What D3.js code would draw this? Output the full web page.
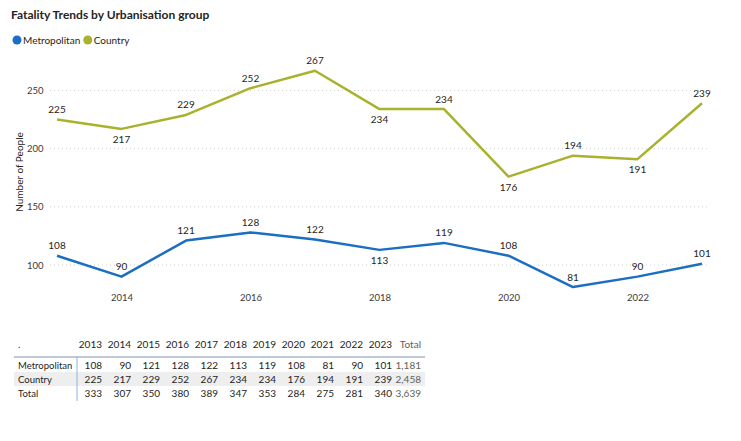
<!DOCTYPE html>
<html>
<head>
<meta charset="utf-8">
<script src="https://cdn.jsdelivr.net/npm/d3@7"></script>
<style>
  body { margin: 0; background: #fff; }
  svg text { font-family: "Segoe UI", Lato, "Noto Sans", sans-serif; }
</style>
</head>
<body>
<script>
// data
var years = [2013, 2014, 2015, 2016, 2017, 2018, 2019, 2020, 2021, 2022, 2023];
var metropolitan = [108, 90, 121, 128, 122, 113, 119, 108, 81, 90, 101];
var country = [225, 217, 229, 252, 267, 234, 234, 176, 194, 191, 239];
var xTickYears = [2014, 2016, 2018, 2020, 2022];
var yTicks = [100, 150, 200, 250];
// which labels sit under the point
var metroBelow = [2018];
var countryBelow = [2014, 2018, 2020, 2022];

var colors = { Metropolitan: "#1b6ec2", Country: "#a9b22c" };

var W = 741, H = 441;
var svg = d3.select("body").append("svg")
  .attr("width", W)
  .attr("height", H);

// title + legend
svg.append("text")
  .attr("x", 11).attr("y", 19)
  .attr("font-size", "12px")
  .attr("font-weight", 700)
  .attr("fill", "#252423")
  .text("Fatality Trends by Urbanisation group");

var lx = 17;
["Metropolitan", "Country"].forEach(function(name) {
  svg.append("circle").attr("cx", lx).attr("cy", 40).attr("r", 4.5).attr("fill", colors[name]);
  var t = svg.append("text").attr("x", lx + 6).attr("y", 43.5)
    .attr("font-size", "10px").attr("fill", "#252423").text(name);
  lx += 6 + t.node().getComputedTextLength() + 7.5;
});

// scales
var x = d3.scaleLinear().domain([2013, 2023]).range([57, 702]);
var y = d3.scaleLinear().domain([100, 250]).range([265, 90.5]);

// gridlines
svg.append("g").selectAll("line")
  .data(yTicks).join("line")
  .attr("x1", 50).attr("x2", 710)
  .attr("y1", function(d) { return y(d); })
  .attr("y2", function(d) { return y(d); })
  .attr("stroke", "#d0d0d0")
  .attr("stroke-dasharray", "1,3");

// y axis
var yAxis = svg.append("g")
  .attr("transform", "translate(43.5,0)")
  .call(d3.axisLeft(y).tickValues(yTicks).tickSize(0).tickPadding(0));
yAxis.select(".domain").remove();
yAxis.selectAll("text").attr("font-size", "9.5px").attr("fill", "#3b3a39");

svg.append("text")
  .attr("transform", "translate(23,172) rotate(-90)")
  .attr("text-anchor", "middle")
  .attr("font-size", "10px")
  .attr("fill", "#252423")
  .text("Number of People");

// x axis
var xAxis = svg.append("g")
  .attr("transform", "translate(0,294)")
  .call(d3.axisBottom(x).tickValues(xTickYears).tickFormat(d3.format("d")).tickSize(0).tickPadding(0));
xAxis.select(".domain").remove();
xAxis.selectAll("text").attr("font-size", "9.5px").attr("fill", "#3b3a39");

// lines
var line = d3.line()
  .x(function(d, i) { return x(years[i]); })
  .y(function(d) { return y(d); });

function drawSeries(vals, name, below) {
  svg.append("path")
    .datum(vals)
    .attr("d", line)
    .attr("fill", "none")
    .attr("stroke", colors[name])
    .attr("stroke-width", 2.5)
    .attr("stroke-linejoin", "round");

  svg.append("g").selectAll("text")
    .data(vals).join("text")
    .attr("x", function(d, i) { return x(years[i]); })
    .attr("y", function(d, i) {
      return below.indexOf(years[i]) >= 0 ? y(d) + 14 : y(d) - 6.5;
    })
    .attr("text-anchor", "middle")
    .attr("font-size", "10px")
    .attr("fill", "#252423")
    .text(function(d) { return d; });
}
drawSeries(country, "Country", countryBelow);
drawSeries(metropolitan, "Metropolitan", metroBelow);

// table
var rows = [
  { name: "Metropolitan", vals: metropolitan },
  { name: "Country", vals: country },
  { name: "Total", vals: metropolitan.map(function(d, i) { return d + country[i]; }) }
];
var colX = d3.scaleLinear().domain([0, 11]).range([102, 421]);
var rowY = d3.scaleLinear().domain([0, 2]).range([368.5, 396.5]);
var fmt = d3.format(",");

svg.append("rect")
  .attr("x", 14).attr("y", rowY(1) - 10.5)
  .attr("width", 411).attr("height", 14)
  .attr("fill", "#eeeeee");

svg.append("line")
  .attr("x1", 14).attr("x2", 425).attr("y1", 357).attr("y2", 357)
  .attr("stroke", "#a9b6cb").attr("stroke-width", 1.5);
svg.append("line")
  .attr("x1", 77).attr("x2", 77).attr("y1", 357).attr("y2", 401)
  .attr("stroke", "#89b5e3").attr("stroke-width", 1);

var header = svg.append("g").attr("font-size", "10px");
header.append("text").attr("x", 18).attr("y", 348).attr("fill", "#252423").text(".");
header.selectAll("text.yr")
  .data(years).join("text")
  .attr("class", "yr")
  .attr("x", function(d, i) { return colX(i); })
  .attr("y", 348)
  .attr("text-anchor", "end")
  .attr("fill", "#252423")
  .text(function(d) { return d; });
header.append("text").attr("x", colX(11)).attr("y", 348)
  .attr("text-anchor", "end").attr("fill", "#605e5c").text("Total");

rows.forEach(function(r, ri) {
  var g = svg.append("g").attr("font-size", "10px");
  g.append("text").attr("x", 18).attr("y", rowY(ri))
    .attr("font-size", "9.5px").attr("fill", "#252423").text(r.name);
  g.selectAll("text.v")
    .data(r.vals).join("text")
    .attr("class", "v")
    .attr("x", function(d, i) { return colX(i); })
    .attr("y", rowY(ri))
    .attr("text-anchor", "end")
    .attr("fill", "#252423")
    .text(function(d) { return d; });
  g.append("text").attr("x", colX(11)).attr("y", rowY(ri))
    .attr("text-anchor", "end").attr("fill", "#605e5c")
    .text(fmt(d3.sum(r.vals)));
});
</script>
</body>
</html>
